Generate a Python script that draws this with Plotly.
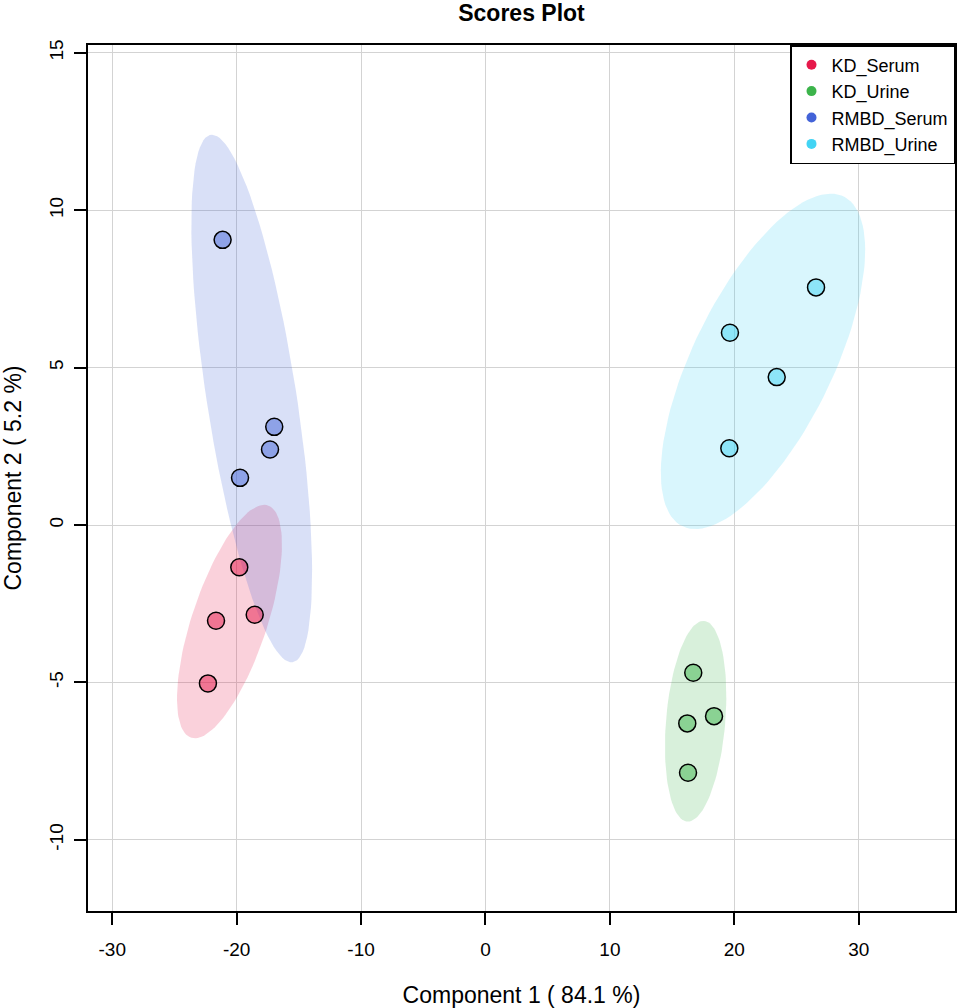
import math
import numpy as np
import plotly.graph_objects as go

# ---------------- data ----------------
groups = ["KD_Serum", "KD_Urine", "RMBD_Serum", "RMBD_Urine"]
colors = ["#e6194B", "#3cb44b", "#4363d8", "#42d4f4"]

kd_serum_x = [-19.79, -21.66, -18.55, -22.31]
kd_serum_y = [-1.34, -3.04, -2.85, -5.03]
kd_urine_x = [16.70, 18.37, 16.22, 16.28]
kd_urine_y = [-4.69, -6.07, -6.30, -7.87]
rmbd_serum_x = [-21.13, -16.98, -17.32, -19.73]
rmbd_serum_y = [9.06, 3.12, 2.40, 1.50]
rmbd_urine_x = [26.57, 19.65, 23.41, 19.60]
rmbd_urine_y = [7.55, 6.11, 4.70, 2.44]

x_ticks = [-30, -20, -10, 0, 10, 20, 30]
x_tick_labels = ["-30", "-20", "-10", "0", "10", "20", "30"]
y_ticks = [-10, -5, 0, 5, 10, 15]
y_tick_labels = ["-10", "-5", "0", "5", "10", "15"]

x_title = "Component 1 ( 84.1 %)"
y_title = "Component 2 ( 5.2 %)"
chart_title = "Scores Plot"

group_x = [kd_serum_x, kd_urine_x, rmbd_serum_x, rmbd_urine_x]
group_y = [kd_serum_y, kd_urine_y, rmbd_serum_y, rmbd_urine_y]


def rgba(hex_color, alpha):
    h = hex_color.lstrip("#")
    r, g, b = int(h[0:2], 16), int(h[2:4], 16), int(h[4:6], 16)
    return f"rgba({r},{g},{b},{alpha})"


def conf_ellipse(xs, ys, level=0.95, n=120):
    pts = np.column_stack([xs, ys])
    c = pts.mean(axis=0)
    cov = np.cov(pts, rowvar=False)
    t = math.sqrt(-2.0 * math.log(1.0 - level))  # sqrt(chi2_{2}(level))
    vals, vecs = np.linalg.eigh(cov)
    a = np.linspace(0, 2 * np.pi, n)
    circ = np.column_stack([np.cos(a), np.sin(a)])
    e = c + t * circ @ (vecs * np.sqrt(vals)).T
    return e[:, 0], e[:, 1]


fig = go.Figure()

# confidence ellipses
for name, xs, ys, col in zip(groups, group_x, group_y, colors):
    ex, ey = conf_ellipse(xs, ys)
    fig.add_trace(go.Scatter(
        x=ex, y=ey, mode="lines", fill="toself",
        fillcolor=rgba(col, 0.2), line=dict(width=0),
        showlegend=False, hoverinfo="skip",
    ))

# score points
for name, xs, ys, col in zip(groups, group_x, group_y, colors):
    fig.add_trace(go.Scatter(
        x=xs, y=ys, mode="markers", name=name,
        marker=dict(size=17, color=rgba(col, 0.5),
                    line=dict(color="black", width=1.5)),
        showlegend=False,
    ))

# legend entries
for name, col in zip(groups, colors):
    fig.add_trace(go.Scatter(
        x=[None], y=[None], mode="markers", name=name,
        marker=dict(size=10, color=col), showlegend=True,
    ))

axis_common = dict(
    showgrid=True, gridcolor="#D3D3D3", gridwidth=1.2,
    zeroline=False, showline=True, mirror=True,
    linecolor="black", linewidth=1.5,
    ticks="outside", ticklen=12, tickwidth=1.5, tickcolor="black",
    tickfont=dict(size=19),
)

fig.update_layout(
    width=957, height=1008,
    margin=dict(l=88, r=2, t=45, b=97, autoexpand=False),
    paper_bgcolor="white", plot_bgcolor="white",
    font=dict(family="Liberation Sans, Arial, sans-serif", size=19, color="black"),
    title=dict(text=f"<b>{chart_title}</b>", x=0.5, xref="paper",
               y=1 - 13 / 1008, yref="container", yanchor="middle",
               font=dict(size=23)),
    legend=dict(x=1, y=1, xanchor="right", yanchor="top",
                bordercolor="black", borderwidth=1.5, bgcolor="white",
                font=dict(size=18)),
    xaxis=dict(range=[-31.95, 37.74], tickvals=x_ticks, ticktext=x_tick_labels,
               title=dict(text=x_title, standoff=28),
               ticklabelstandoff=8, **axis_common),
    yaxis=dict(range=[-12.26, 15.25], tickvals=y_ticks, ticktext=y_tick_labels,
               tickangle=-90,
               title=dict(text=y_title, standoff=28),
               ticklabelstandoff=4, **axis_common),
)

fig.write_html(
    "out.html",
    config={"displayModeBar": False},
    post_script="document.body.style.margin='0';document.body.style.overflow='hidden';",
)
